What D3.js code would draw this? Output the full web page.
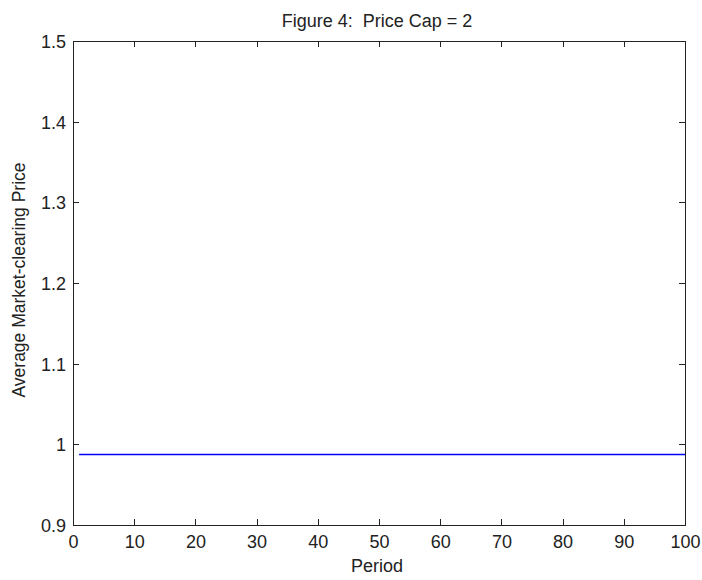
<!DOCTYPE html>
<html>
<head>
<meta charset="utf-8">
<script src="https://cdn.jsdelivr.net/npm/d3@7"></script>
<style>
  html, body { margin: 0; padding: 0; background: #fff; }
  svg { display: block; }
  text { font-family: "Liberation Sans", Arial, Helvetica, sans-serif; fill: #222; white-space: pre; }
</style>
</head>
<body>
<svg id="chart" width="702" height="580"></svg>
<script>
// Average market-clearing price per period under a price cap of 2
const periods = d3.range(1, 101);
const prices = periods.map(() => 0.988);

const xTicks = [0, 10, 20, 30, 40, 50, 60, 70, 80, 90, 100];
const yTicks = [0.9, 1, 1.1, 1.2, 1.3, 1.4, 1.5];
const yTickLabels = ["0.9", "1", "1.1", "1.2", "1.3", "1.4", "1.5"];

const titleText = "Figure 4:  Price Cap = 2";
const xLabelText = "Period";
const yLabelText = "Average Market-clearing Price";

const svg = d3.select("#chart");
const box = { left: 73, top: 41, right: 685, bottom: 525 };

const x = d3.scaleLinear().domain([0, 100]).range([box.left, box.right]);
const y = d3.scaleLinear().domain([0.9, 1.5]).range([box.bottom, box.top]);

const tickLen = 6;
const fontSize = 18;

// bottom axis labels (ticks drawn inward below)
const xAxis = d3.axisBottom(x).tickValues(xTicks).tickSize(0).tickPadding(10)
  .tickFormat(d3.format("d"));
const gx = svg.append("g").attr("transform", `translate(0,${box.bottom})`).call(xAxis);
gx.select(".domain").remove();
gx.attr("font-family", null).attr("font-size", null);
gx.selectAll("text").attr("font-size", fontSize).attr("fill", "#222").attr("dy", "0.72em");

// left axis labels
const yAxis = d3.axisLeft(y).tickValues(yTicks).tickSize(0).tickPadding(7)
  .tickFormat((d, i) => yTickLabels[i]);
const gy = svg.append("g").attr("transform", `translate(${box.left},0)`).call(yAxis);
gy.select(".domain").remove();
gy.attr("font-family", null).attr("font-size", null);
gy.selectAll("text").attr("font-size", fontSize).attr("fill", "#222").attr("dy", "0.36em");

const ticks = svg.append("g").attr("stroke", "#222").attr("stroke-width", 1)
  .attr("shape-rendering", "crispEdges");

// inward ticks on all four sides
xTicks.slice(1, -1).forEach(t => {
  const px = Math.round(x(t)) + 0.5;
  ticks.append("line").attr("x1", px).attr("x2", px)
    .attr("y1", box.bottom).attr("y2", box.bottom - tickLen);
  ticks.append("line").attr("x1", px).attr("x2", px)
    .attr("y1", box.top).attr("y2", box.top + tickLen);
});
yTicks.slice(1, -1).forEach(t => {
  const py = Math.round(y(t)) + 0.5;
  ticks.append("line").attr("x1", box.left).attr("x2", box.left + tickLen)
    .attr("y1", py).attr("y2", py);
  ticks.append("line").attr("x1", box.right).attr("x2", box.right - tickLen)
    .attr("y1", py).attr("y2", py);
});

// price line
const line = d3.line()
  .x((d, i) => x(periods[i]))
  .y(d => Math.round(y(d)) + 0.5);
svg.append("path").datum(prices)
  .attr("d", line)
  .attr("fill", "none")
  .attr("stroke", "#0000ff")
  .attr("stroke-width", 1.3);

// box frame
svg.append("rect")
  .attr("x", box.left + 0.5).attr("y", box.top + 0.5)
  .attr("width", box.right - box.left).attr("height", box.bottom - box.top)
  .attr("fill", "none").attr("stroke", "#222").attr("stroke-width", 1.2)
  .attr("shape-rendering", "crispEdges");

// title and axis labels
svg.append("text").attr("x", 377).attr("y", 27)
  .attr("text-anchor", "middle").attr("font-size", fontSize).text(titleText);
svg.append("text").attr("x", 377).attr("y", 572)
  .attr("text-anchor", "middle").attr("font-size", fontSize).text(xLabelText);
svg.append("text")
  .attr("transform", `translate(25,${(box.top + box.bottom) / 2 - 3}) rotate(-90)`)
  .attr("text-anchor", "middle").attr("font-size", 17.5).text(yLabelText);
</script>
</body>
</html>
